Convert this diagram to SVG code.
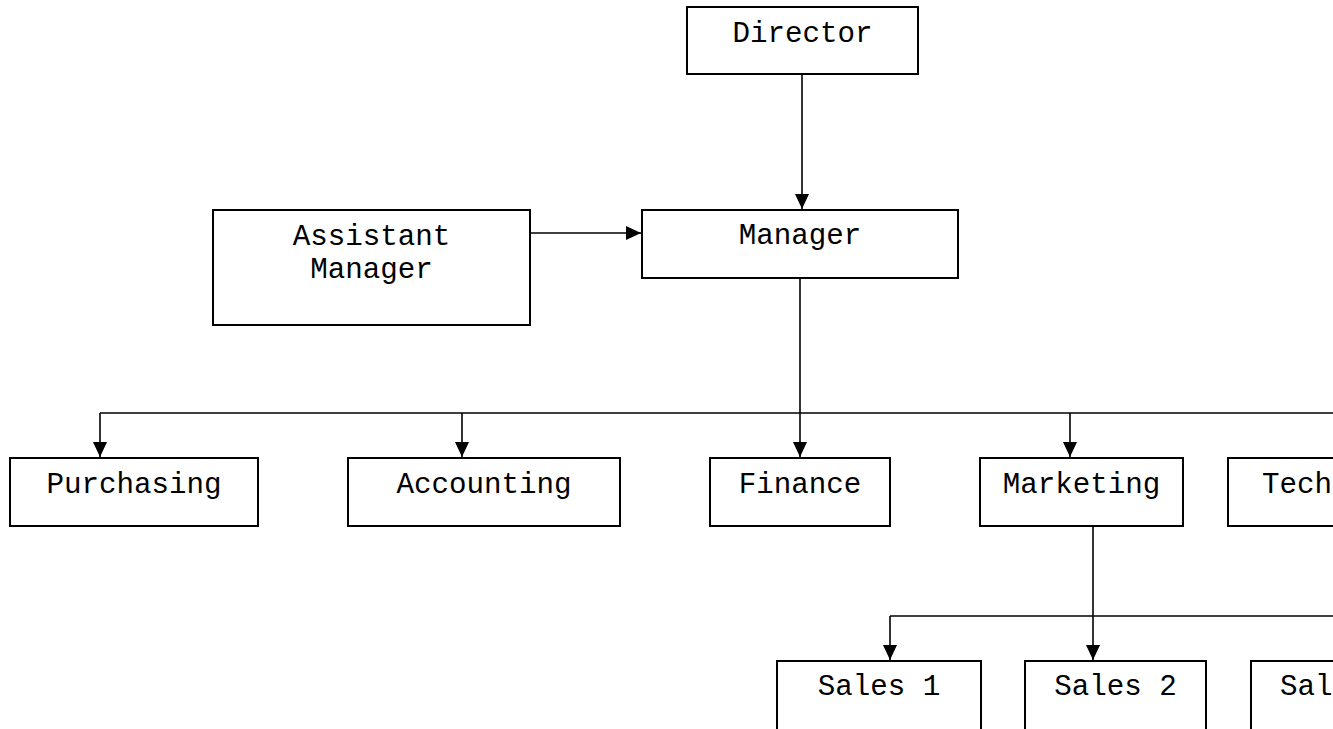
<svg xmlns="http://www.w3.org/2000/svg" width="1333" height="729" viewBox="0 0 1333 729">
<style>
.box{fill:#fff;stroke:#000;stroke-width:2}
.lbl{font-family:"Liberation Mono","Courier New",monospace;font-size:29.2px;fill:#000;text-anchor:middle}
.lbs{font-family:"Liberation Mono","Courier New",monospace;font-size:29.2px;fill:#000;text-anchor:start}
.ln{fill:none;stroke:#000;stroke-width:1.6}
.ar{fill:none;stroke:#000;stroke-width:1.6;marker-end:url(#ah)}
</style>
<defs>
<marker id="ah" markerUnits="userSpaceOnUse" markerWidth="16" markerHeight="14" viewBox="0 0 16 14" refX="15" refY="7" orient="auto">
<path d="M0,0 L15,7 L0,14 z" fill="#000"/>
</marker>
</defs>
<rect width="1333" height="729" fill="#fff"/>
<g id="connectors">
<path class="ar" d="M802,74 V209"/>
<path class="ar" d="M530,233 H641"/>
<path class="ln" d="M800,278 V413"/>
<path class="ln" d="M100,413 H1333"/>
<path class="ar" d="M100,413 V457"/>
<path class="ar" d="M462,413 V457"/>
<path class="ar" d="M800,413 V457"/>
<path class="ar" d="M1070,413 V457"/>
<path class="ln" d="M1093,526 V616"/>
<path class="ln" d="M890,616 H1333"/>
<path class="ar" d="M890,616 V660"/>
<path class="ar" d="M1093,616 V660"/>
</g>
<g id="director"><rect class="box" x="687" y="7" width="231" height="67"/><text class="lbl" x="802.5" y="42">Director</text></g>
<g id="assistant-manager"><rect class="box" x="213" y="210" width="317" height="115"/><text class="lbl" x="371.5" y="245">Assistant</text><text class="lbl" x="371.5" y="278">Manager</text></g>
<g id="manager"><rect class="box" x="642" y="210" width="316" height="68"/><text class="lbl" x="800" y="244">Manager</text></g>
<g id="purchasing"><rect class="box" x="10" y="458" width="248" height="68"/><text class="lbl" x="134" y="493">Purchasing</text></g>
<g id="accounting"><rect class="box" x="348" y="458" width="272" height="68"/><text class="lbl" x="484" y="493">Accounting</text></g>
<g id="finance"><rect class="box" x="710" y="458" width="180" height="68"/><text class="lbl" x="800" y="493">Finance</text></g>
<g id="marketing"><rect class="box" x="980" y="458" width="203" height="68"/><text class="lbl" x="1081.5" y="493">Marketing</text></g>
<g id="tech"><rect class="box" x="1228" y="458" width="140" height="68"/><text class="lbs" x="1262" y="493">Tech</text></g>
<g id="sales1"><rect class="box" x="777" y="661" width="204" height="90"/><text class="lbl" x="879" y="695">Sales 1</text></g>
<g id="sales2"><rect class="box" x="1025" y="661" width="181" height="90"/><text class="lbl" x="1115.5" y="695">Sales 2</text></g>
<g id="sales3"><rect class="box" x="1251" y="661" width="140" height="90"/><text class="lbs" x="1280" y="695">Sal</text></g>
</svg>
